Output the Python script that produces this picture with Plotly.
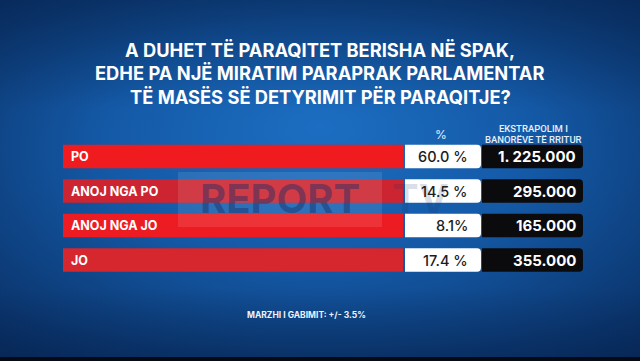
import base64
import plotly.graph_objects as go

# ---- data ----
categories = ["PO", "ANOJ NGA PO", "ANOJ NGA JO", "JO"]
percent_labels = ["60.0 %", "14.5 %", "8.1%", "17.4 %"]
percent_values = [60.0, 14.5, 8.1, 17.4]
extrapolation = ["1. 225.000", "295.000", "165.000", "355.000"]
title_lines = [
    "A DUHET TË PARAQITET BERISHA NË SPAK,",
    "EDHE PA NJË MIRATIM PARAPRAK PARLAMENTAR",
    "TË MASËS SË DETYRIMIT PËR PARAQITJE?",
]
col_pct_header = "%"
col_ext_header = ["EKSTRAPOLIM I", "BANORËVE TË RRITUR"]
footer = "MARZHI I GABIMIT: +/- 3.5%"

W, H = 640, 361
red_colors = ["#ef1b1f", "#cc2531", "#ec1c22", "#d6262e"]

def px(x):
    return x / W

def py(y):
    return 1 - y / H

# background image (svg gradient)
svg = f"""<svg xmlns='http://www.w3.org/2000/svg' width='{W}' height='{H}' preserveAspectRatio='none'>
<defs>
<radialGradient id='g' cx='0.5' cy='0.45' r='0.75' fx='0.5' fy='0.35'>
<stop offset='0' stop-color='#1c6ec2'/>
<stop offset='0.45' stop-color='#1459a6'/>
<stop offset='1' stop-color='#082a5c'/>
</radialGradient>
<linearGradient id='v' x1='0' y1='0' x2='0' y2='1'>
<stop offset='0' stop-color='#06234f' stop-opacity='0.55'/>
<stop offset='0.3' stop-color='#06234f' stop-opacity='0'/>
<stop offset='0.8' stop-color='#06234f' stop-opacity='0'/>
<stop offset='1' stop-color='#06234f' stop-opacity='0.5'/>
</linearGradient>
</defs>
<rect width='{W}' height='{H}' fill='url(#g)'/>
<rect width='{W}' height='{H}' fill='url(#v)'/>
<rect y='357' width='{W}' height='4' fill='#050a14'/>
</svg>"""
bg_uri = "data:image/svg+xml;base64," + base64.b64encode(svg.encode()).decode()

fig = go.Figure()

# column geometry (pixels)
red_x0, red_x1 = 63, 403
wht_x0, wht_x1 = 405, 481
blk_x0, blk_x1 = 482, 583
row_top, row_step = 156.5, 34.5
bar_h = 23.5

r_top = -row_top / row_step
r_bot = r_top + H / row_step
bw = bar_h / row_step

full = [1] * len(categories)
fig.add_trace(go.Bar(y=categories, x=full, orientation="h", xaxis="x",
                     marker=dict(color=red_colors, line=dict(width=0)),
                     width=bw, hoverinfo="skip"))
fig.add_trace(go.Bar(y=categories, x=full, orientation="h", xaxis="x2",
                     marker=dict(color="#ffffff", line=dict(width=0), cornerradius=4),
                     width=bw, hoverinfo="skip", customdata=percent_values))
fig.add_trace(go.Bar(y=categories, x=full, orientation="h", xaxis="x3",
                     marker=dict(color="#0b0b0d", line=dict(width=0), cornerradius=4),
                     width=bw, hoverinfo="skip"))

ax_common = dict(range=[0, 1], visible=False, fixedrange=True)
fig.update_layout(
    width=W, height=H,
    margin=dict(l=0, r=0, t=0, b=0),
    paper_bgcolor="#0f4c94",
    plot_bgcolor="rgba(0,0,0,0)",
    showlegend=False,
    barmode="overlay",
    xaxis=dict(domain=[px(red_x0), px(red_x1)], **ax_common),
    xaxis2=dict(domain=[px(wht_x0), px(wht_x1)], anchor="y", **ax_common),
    xaxis3=dict(domain=[px(blk_x0), px(blk_x1)], anchor="y", **ax_common),
    yaxis=dict(type="category", categoryorder="array", categoryarray=categories,
               range=[r_bot, r_top], visible=False, fixedrange=True),
    images=[dict(source=bg_uri, xref="paper", yref="paper", x=0, y=1,
                 sizex=1, sizey=1, sizing="stretch", layer="below",
                 xanchor="left", yanchor="top")],
)

ann = []
# watermark (drawn first so other texts sit above it)
ann.append(dict(x=px(280), y=py(199), xref="paper", yref="paper", text="<b>REPORT</b>",
                xanchor="center", yanchor="middle", showarrow=False,
                font=dict(family="Inter", size=40, color="rgba(25,45,100,0.45)")))
ann.append(dict(x=px(420), y=py(199), xref="paper", yref="paper", text="<b>TV</b>",
                xanchor="center", yanchor="middle", showarrow=False,
                font=dict(family="Inter", size=40, color="rgba(25,45,100,0.18)")))

# row texts
for cat, pct, ext in zip(categories, percent_labels, extrapolation):
    ann.append(dict(x=0, y=cat, xref="x", yref="y", text=f"<b>{cat}</b>",
                    xanchor="left", yanchor="middle", xshift=6, showarrow=False,
                    font=dict(family="Inter", size=12.5, color="white")))
    ann.append(dict(x=1, y=cat, xref="x2", yref="y", text=pct,
                    xanchor="right", yanchor="middle", xshift=-11, showarrow=False,
                    font=dict(family="Inter", size=14.5, color="#1c1c1c", weight=500)))
    ann.append(dict(x=1, y=cat, xref="x3", yref="y", text=f"<b>{ext}</b>",
                    xanchor="right", yanchor="middle", xshift=-5, showarrow=False,
                    font=dict(family="Inter", size=15, color="white")))

# title (one annotation per line)
for i, line in enumerate(title_lines):
    ann.append(dict(x=px(320), y=py(50 + i * 23.5), xref="paper", yref="paper",
                    text=f"<b>{line}</b>", xanchor="center", yanchor="middle",
                    showarrow=False,
                    font=dict(family="Inter", size=18.3, color="white", weight=800)))
# column headers
ann.append(dict(x=px(441), y=py(134), xref="paper", yref="paper", text=col_pct_header,
                xanchor="center", yanchor="middle", showarrow=False,
                font=dict(family="Inter", size=12, color="#e8eef8")))
for i, line in enumerate(col_ext_header):
    ann.append(dict(x=px(533), y=py(129 + i * 10.5), xref="paper", yref="paper",
                    text=line, xanchor="center", yanchor="middle", showarrow=False,
                    font=dict(family="Roboto", size=9.5, color="#e8eef8", weight=500)))
# footer
ann.append(dict(x=px(306), y=py(315), xref="paper", yref="paper", text=f"<b>{footer}</b>",
                xanchor="center", yanchor="middle", showarrow=False,
                font=dict(family="Inter", size=8.5, color="#eef3fb")))
fig.update_layout(annotations=ann)

fig.add_shape(type="rect", xref="paper", yref="paper", layer="above",
              x0=px(178), x1=px(382), y0=py(227), y1=py(172),
              fillcolor="rgba(255,255,255,0.10)", line=dict(width=0))

fig.write_html("out.html",
               config={"displayModeBar": False, "staticPlot": True},
               post_script="document.body.style.margin='0';"
                           "document.body.style.overflow='hidden';")
